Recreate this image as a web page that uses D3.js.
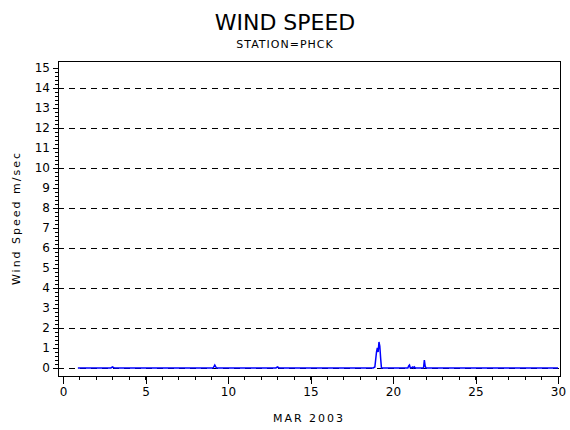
<!DOCTYPE html><html><head><script src="https://cdn.jsdelivr.net/npm/d3@7"></script>
<style>body{margin:0;background:#fff}text{font-family:"DejaVu Sans",sans-serif}line,rect{shape-rendering:crispEdges}</style></head><body>
<svg id="c" width="570" height="430"></svg>
<script>
const days=[0.9,2.9,3.0,3.1,9.1,9.2,9.3,12.9,13.0,13.1,18.8,18.9,19.0,19.05,19.1,19.15,19.2,19.25,19.3,19.35,20.9,20.95,21.0,21.05,21.1,21.2,21.25,21.3,21.35,21.4,21.85,21.9,21.95,22.0,30.0];
const speeds=[0,0,0.05,0,0,0.15,0,0,0.05,0,0,0.05,0.8,1.0,0.8,1.3,1.1,0.5,0,0,0,0.1,0.15,0,0,0.05,0,0.05,0,0,0,0.4,0.1,0,0];
const yTicks=d3.range(0,16);
const xTicks=[0,5,10,15,20,25,30];
const gridVals=[2,4,6,8,10,12,14,0];
const svg=d3.select("#c");
const L=58,R=560,T=61,B=376;
const x=d3.scaleLinear().domain([0,30]).range([63,558]);
const y=d3.scaleLinear().domain([0,15]).range([368,68]);
svg.append("text").attr("x",285).attr("y",30).attr("text-anchor","middle").attr("font-size",22).text("WIND SPEED");
svg.append("text").attr("x",285).attr("y",48).attr("text-anchor","middle").attr("font-size",11).attr("letter-spacing",1).text("STATION=PHCK");
svg.selectAll(".g").data(gridVals).join("line").attr("x1",L).attr("x2",R).attr("y1",d=>Math.round(y(d))+0.5).attr("y2",d=>Math.round(y(d))+0.5).attr("stroke","#000").attr("stroke-dasharray","6,5");
const line=d3.line().x((d,i)=>x(days[i])).y(d=>y(d));
svg.append("path").attr("d",line(speeds)).attr("fill","none").attr("stroke","#0000ff").attr("stroke-width",1.5);
svg.append("rect").attr("x",L+0.5).attr("y",T+0.5).attr("width",R-L).attr("height",B-T).attr("fill","none").attr("stroke","#000");
const ya=d3.axisLeft(y).tickValues(yTicks).tickSize(5).tickFormat(d3.format("d"));
svg.append("g").attr("transform",`translate(${L},0)`).call(ya).call(g=>{g.select(".domain").remove();g.selectAll("text").attr("font-size",12).attr("font-family","DejaVu Sans")});
svg.append("g").attr("transform",`translate(${L},0)`).selectAll("line").data(d3.range(0,15.01,0.2)).join("line").attr("x1",-3).attr("x2",0).attr("y1",d=>y(d)).attr("y2",d=>y(d)).attr("stroke","#000");
const xa=d3.axisBottom(x).tickValues(xTicks).tickSize(8).tickFormat(d3.format("d"));
svg.append("g").attr("transform",`translate(0,${B})`).call(xa).call(g=>{g.select(".domain").remove();g.selectAll("text").attr("font-size",12).attr("font-family","DejaVu Sans")});
svg.append("g").attr("transform",`translate(0,${B})`).selectAll("line").data(d3.range(0,31)).join("line").attr("x1",d=>x(d)).attr("x2",d=>x(d)).attr("y1",0).attr("y2",4).attr("stroke","#000");
svg.append("text").attr("x",309).attr("y",422).attr("text-anchor","middle").attr("font-size",11).attr("letter-spacing",2).text("MAR 2003");
svg.append("text").attr("transform","translate(20,218) rotate(-90)").attr("text-anchor","middle").attr("font-size",11).attr("letter-spacing",2).text("Wind Speed m/sec");
</script></body></html>
